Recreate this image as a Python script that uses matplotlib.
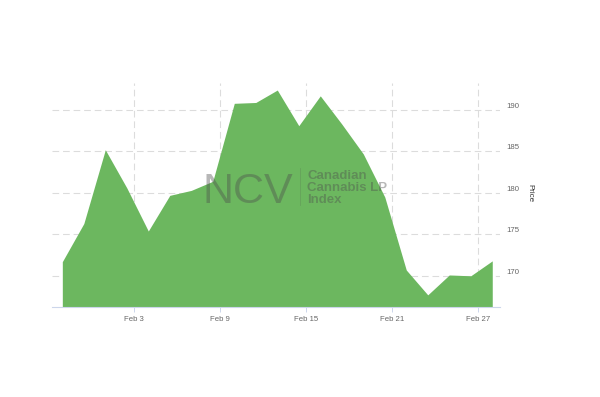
import matplotlib

matplotlib.use("Agg")
import matplotlib.pyplot as plt
from matplotlib.lines import Line2D

plt.rcParams["font.family"] = ["Liberation Sans", "DejaVu Sans"]

GREEN = "#6cb75f"
GRID = "#dcdcdc"
AXIS = "#ccd6eb"
LABEL = "#666666"

# day of February (0 = Jan 31), one point every 36 hours
days = [-2.0, -0.5, 1.0, 2.5, 4.0, 5.5, 7.0, 8.5, 10.0, 11.5, 13.0,
        14.5, 16.0, 17.5, 19.0, 20.5, 22.0, 23.5, 25.0, 26.5, 28.0]
price = [171.7, 176.3, 185.2, 180.6, 175.4, 179.7, 180.3, 181.4, 190.8, 190.9, 192.4,
         188.1, 191.7, 188.3, 184.7, 179.5, 170.7, 167.7, 170.1, 170.0, 171.8]

xticks = [3, 9, 15, 21, 27]
xticklabels = ["Feb 3", "Feb 9", "Feb 15", "Feb 21", "Feb 27"]
yticks = [170, 175, 180, 185, 190]
ymin, ymax = 166.2, 193.25

fig = plt.figure(figsize=(6, 3.97), dpi=100)
ax = fig.add_axes([52 / 600, 1 - 307.3 / 397, 448 / 600, (307.3 - 83) / 397])

ax.fill_between(days, price, ymin, color=GREEN, lw=0, zorder=2)

ax.set_xlim(-2.72, 28.54)
ax.set_ylim(ymin, ymax)
ax.set_xticks(xticks)
ax.set_xticklabels(xticklabels)
ax.set_yticks(yticks)

ax.grid(True, color=GRID, lw=0.8, ls=(0, (6, 3.5)), zorder=1)
for s in ["top", "left", "right"]:
    ax.spines[s].set_visible(False)
ax.spines["bottom"].set_color(AXIS)
ax.spines["bottom"].set_linewidth(0.8)
ax.spines["bottom"].set_zorder(3)

ax.tick_params(axis="x", colors=AXIS, length=3.5, width=0.7, pad=2.5,
               labelsize=5.6, labelcolor=LABEL)
ax.tick_params(axis="y", left=False, right=False, labelleft=False, labelright=True,
               length=0, pad=4.3, labelsize=5.6, labelcolor=LABEL)
for lbl in ax.get_yticklabels():
    lbl.set_verticalalignment("bottom")

fig.text(530 / 600, 1 - 193 / 397, "Price", rotation=270, ha="center", va="center",
         fontsize=5.8, color="#333333")

# watermark
wm = (0.3, 0.3, 0.3)
fig.text(247.5 / 600, 1 - 203 / 397, "NCV", ha="center", va="baseline",
         fontsize=31, color=wm, alpha=0.4, zorder=5)
fig.add_artist(Line2D([300 / 600, 300 / 600], [1 - 168 / 397, 1 - 205 / 397],
                      color=wm, alpha=0.2, lw=0.6))
for txt, base in [("Canadian", 179), ("Cannabis LP", 191), ("Index", 202.7)]:
    fig.text(307 / 600, 1 - base / 397, txt, ha="left", va="baseline",
             fontsize=9.5, fontweight="bold", color=wm, alpha=0.4, zorder=5)

fig.savefig("out.png", dpi=100)
